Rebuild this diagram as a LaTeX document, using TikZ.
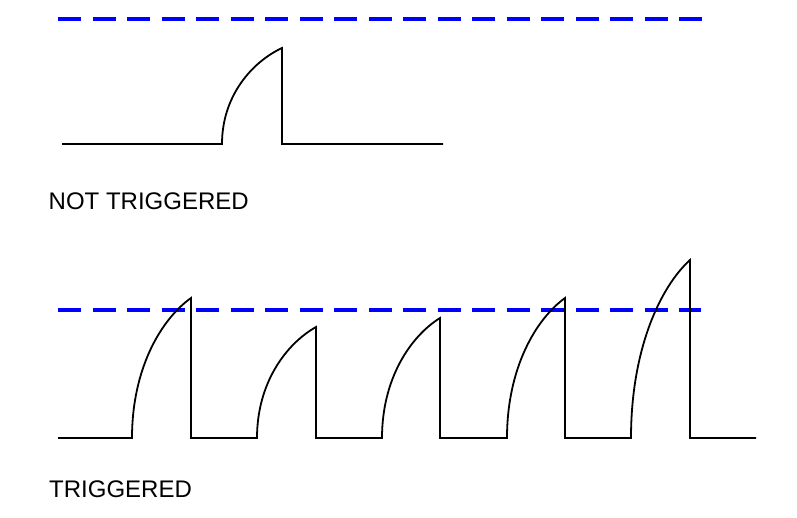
\documentclass[tikz,border=0pt]{standalone}
\usepackage{fontspec}
\setmainfont{Liberation Sans}
\begin{document}
\begin{tikzpicture}[
    x=1pt, y=-1pt,
    wave/.style={line width=1.8pt, black, line join=miter},
    thresh/.style={line width=3.6pt, blue, dash pattern=on 23pt off 11.5pt},
    lbl/.style={font=\fontsize{24}{28}\selectfont, anchor=base west, inner sep=0pt}
  ]
  \useasboundingbox (0,0) rectangle (797,518);
  % not triggered
  \draw[thresh] (58,19) -- (702,19);
  \draw[wave] (62,144) -- (222,144) .. controls (222,96) and (252,62) .. (282,48) -- (282,144) -- (443,144);
  \node[lbl] (nottrig) at (48.5,209.5) {NOT TRIGGERED};

  % triggered
  \draw[thresh] (58,310) -- (701,310);
  \draw[wave] (58,438)
    \foreach \s/\p/\h in {132/191/298, 257/316/327, 382/440/318, 507/565/298, 631/690/260} {
      -- (\s,438) .. controls (\s,{438-0.5*(438-\h)}) and ({\s+0.5*(\p-\s)},{438-0.85*(438-\h)}) .. (\p,\h) -- (\p,438)
    } -- (756,438);
  \node[lbl] (trig) at (49,497) {TRIGGERED};
\end{tikzpicture}
\end{document}
